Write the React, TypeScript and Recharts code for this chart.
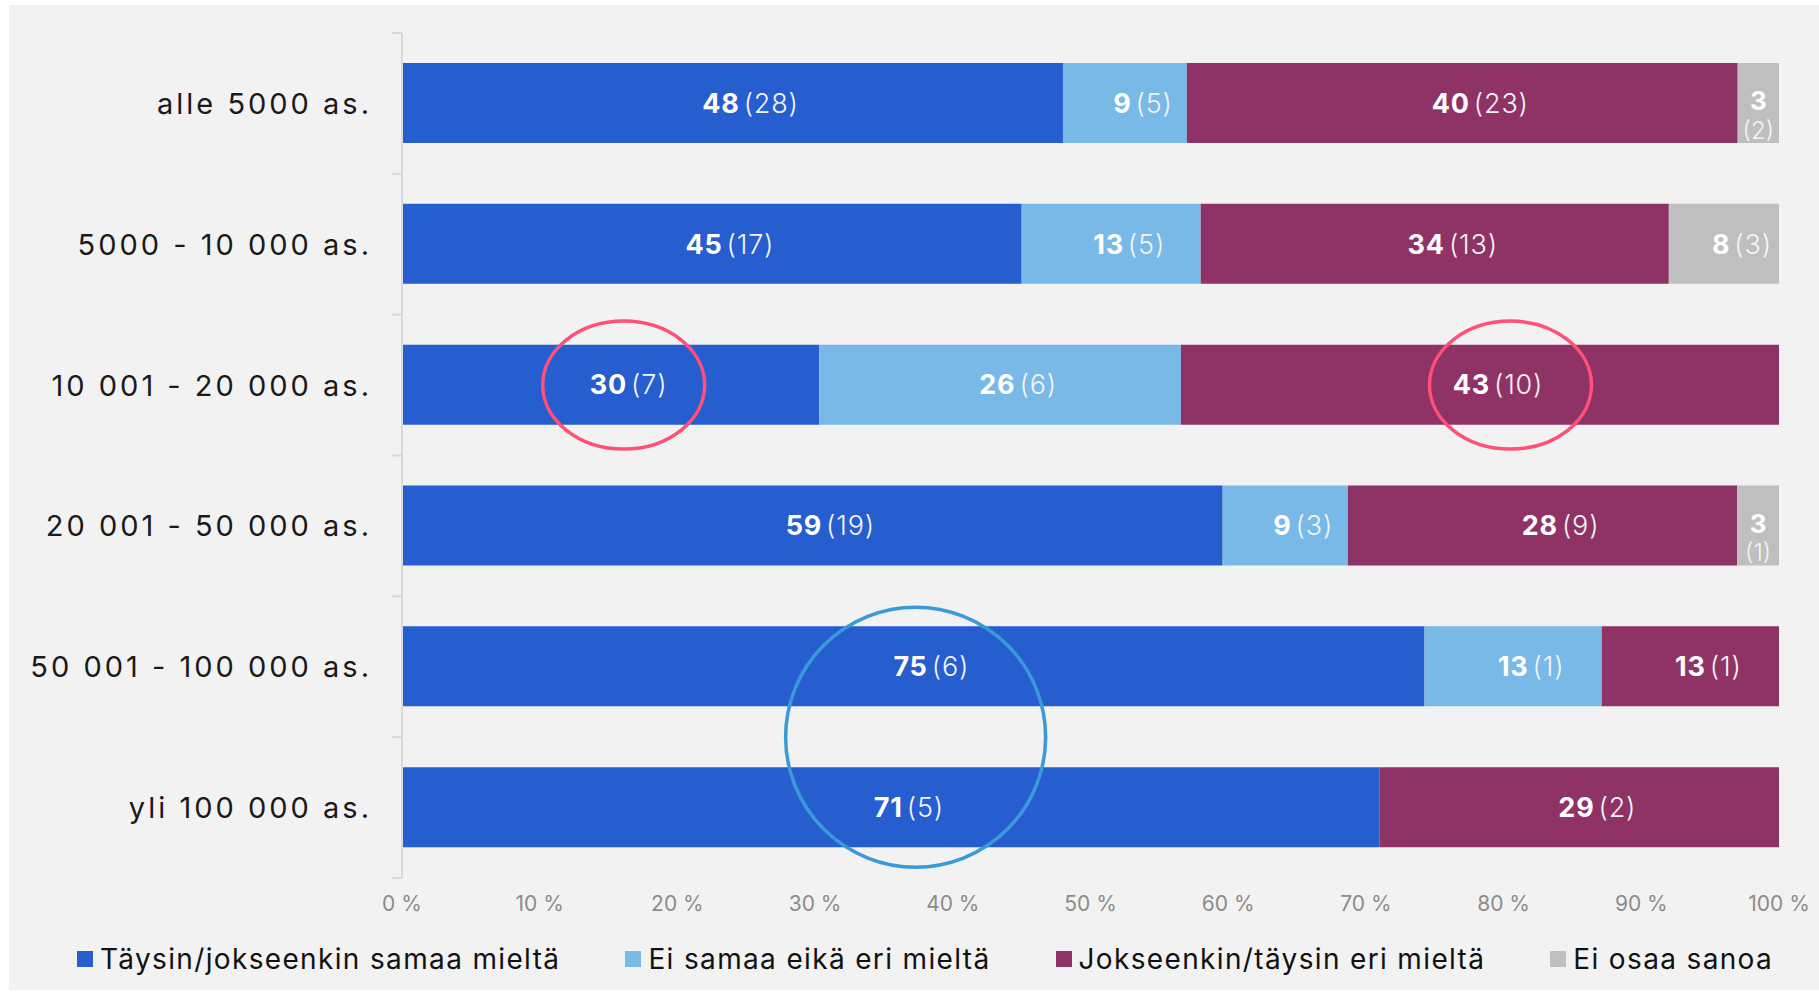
import { BarChart, Bar, XAxis, YAxis, LabelList, ReferenceDot } from 'recharts';

const categories = [
  'alle 5000 as.',
  '5000 - 10 000 as.',
  '10 001 - 20 000 as.',
  '20 001 - 50 000 as.',
  '50 001 - 100 000 as.',
  'yli 100 000 as.',
];

// percentages shown on the bars
const agreePct = [48, 45, 30, 59, 75, 71];
const neutralPct = [9, 13, 26, 9, 13, 0];
const disagreePct = [40, 34, 43, 28, 13, 29];
const dontKnowPct = [3, 8, 0, 3, 0, 0];

// number of answers (in brackets)
const agreeCount = [28, 17, 7, 19, 6, 5];
const neutralCount = [5, 5, 6, 3, 1, 0];
const disagreeCount = [23, 13, 10, 9, 1, 2];
const dontKnowCount = [2, 3, 0, 1, 0, 0];

const xTicks = [0, 0.1, 0.2, 0.3, 0.4, 0.5, 0.6, 0.7, 0.8, 0.9, 1];

const seriesNames = [
  'Täysin/jokseenkin samaa mieltä',
  'Ei samaa eikä eri mieltä',
  'Jokseenkin/täysin eri mieltä',
  'Ei osaa sanoa',
];
const colors = ['#265DCF', '#78B9E7', '#8F3366', '#BFBFBF'];

const data = categories.map((name, i) => ({
  name,
  agree: agreePct[i],
  neutral: neutralPct[i],
  disagree: disagreePct[i],
  dontKnow: dontKnowPct[i],
}));

const FONT = 'Inter, "Open Sans", sans-serif';

// label gets the category name as value, so zero-width bars don't shift the index
const makeLabel = (pcts: number[], counts: number[]) => (props: any) => {
  const { x, y, width, height, value } = props;
  const i = categories.indexOf(value);
  const p = pcts[i];
  if (!p) return null;
  const cx = Number(x) + Number(width) / 2;
  const cy = Number(y) + Number(height) / 2;
  if (Number(width) < 60) {
    // narrow segment: number and count wrap onto two lines
    return (
      <text textAnchor="middle" fontFamily={FONT} fill="#fff">
        <tspan x={cx} y={cy - 2} dy="0.36em" fontSize={26} fontWeight={700}>{p}</tspan>
        <tspan x={cx} y={cy + 27} dy="0.36em" fontSize={24} fontWeight={300} fill="#f4f4f4">({counts[i]})</tspan>
      </text>
    );
  }
  return (
    <text x={cx + 18} y={cy} dy="0.36em" textAnchor="middle" fontFamily={FONT} fontSize={27} fill="#fff" letterSpacing={0.8}>
      <tspan fontWeight={700}>{p}</tspan>
      <tspan dx={4} fontWeight={300} fill="#f4f4f4">({counts[i]})</tspan>
    </text>
  );
};

const CategoryTick = (props: any) => {
  const { x, y, payload, index } = props;
  const axisX = x + 33;
  const half = payload.offset || 70.4;
  return (
    <g>
      <line x1={axisX - 10} x2={axisX} y1={y - half} y2={y - half} stroke="#d9d9d9" strokeWidth={2} />
      {index === categories.length - 1 && (
        <line x1={axisX - 10} x2={axisX} y1={y + half} y2={y + half} stroke="#d9d9d9" strokeWidth={2} />
      )}
      <text x={x + 3} y={y} dy="0.36em" textAnchor="end" fontFamily={FONT} fontSize={29} fill="#1a1a1a" letterSpacing={3}>
        {payload.value}
      </text>
    </g>
  );
};

const pinkEllipse = (props: any) => (
  <ellipse cx={props.cx} cy={props.cy} rx={81} ry={64} fill="none" stroke="#FF5078" strokeWidth={3.5} />
);
// blue circle sits between the two largest size classes
const blueCircle = (props: any) => (
  <circle cx={props.cx} cy={props.cy + 70.4} r={130} fill="none" stroke="#3A9AD9" strokeWidth={3.5} />
);

function App() {
  return (
    <div style={{ position: 'absolute', left: 0, top: 0, width: 1819, height: 992, background: '#fff' }}>
      <div style={{ position: 'absolute', left: 9, top: 5, width: 1810, height: 985, background: '#F2F2F2' }} />
      <div style={{ position: 'absolute', left: 0, top: 0 }}>
        <BarChart
          width={1819}
          height={992}
          data={data}
          layout="vertical"
          stackOffset="expand"
          margin={{ top: 33, right: 40, left: 22, bottom: 64 }}
        >
          <XAxis
            type="number"
            domain={[0, 1]}
            ticks={xTicks}
            tickFormatter={(v: number) => `${Math.round(v * 100)} %`}
            axisLine={false}
            tickLine={false}
            tickMargin={12}
            height={50}
            tick={{ fontFamily: FONT, fontSize: 21, fill: '#8c8c8c' }}
          />
          <YAxis
            type="category"
            dataKey="name"
            width={380}
            axisLine={{ stroke: '#d9d9d9', strokeWidth: 2 }}
            tickLine={false}
            tickMargin={27}
            tick={<CategoryTick />}
          />
          <Bar dataKey="agree" stackId="a" fill={colors[0]} barSize={80} isAnimationActive={false}>
            <LabelList dataKey="name" content={makeLabel(agreePct, agreeCount)} />
          </Bar>
          <Bar dataKey="neutral" stackId="a" fill={colors[1]} barSize={80} isAnimationActive={false}>
            <LabelList dataKey="name" content={makeLabel(neutralPct, neutralCount)} />
          </Bar>
          <Bar dataKey="disagree" stackId="a" fill={colors[2]} barSize={80} isAnimationActive={false}>
            <LabelList dataKey="name" content={makeLabel(disagreePct, disagreeCount)} />
          </Bar>
          <Bar dataKey="dontKnow" stackId="a" fill={colors[3]} barSize={80} isAnimationActive={false}>
            <LabelList dataKey="name" content={makeLabel(dontKnowPct, dontKnowCount)} />
          </Bar>
          <ReferenceDot x={0.161} y={categories[2]} ifOverflow="visible" shape={pinkEllipse} />
          <ReferenceDot x={0.805} y={categories[2]} ifOverflow="visible" shape={pinkEllipse} />
          <ReferenceDot x={0.373} y={categories[4]} ifOverflow="visible" shape={blueCircle} />
        </BarChart>
      </div>
      <div
        style={{
          position: 'absolute',
          left: 77,
          top: 939,
          display: 'flex',
          gap: 65,
          fontFamily: FONT,
          fontSize: 28,
          color: '#111',
          lineHeight: '40px',
          letterSpacing: 1.35,
          whiteSpace: 'nowrap',
        }}
      >
        {seriesNames.map((s, i) => (
          <div key={s} style={{ display: 'flex', alignItems: 'center' }}>
            <span style={{ display: 'inline-block', width: 16, height: 16, background: colors[i], marginRight: 7 }} />
            <span>{s}</span>
          </div>
        ))}
      </div>
    </div>
  );
}

export default App;
